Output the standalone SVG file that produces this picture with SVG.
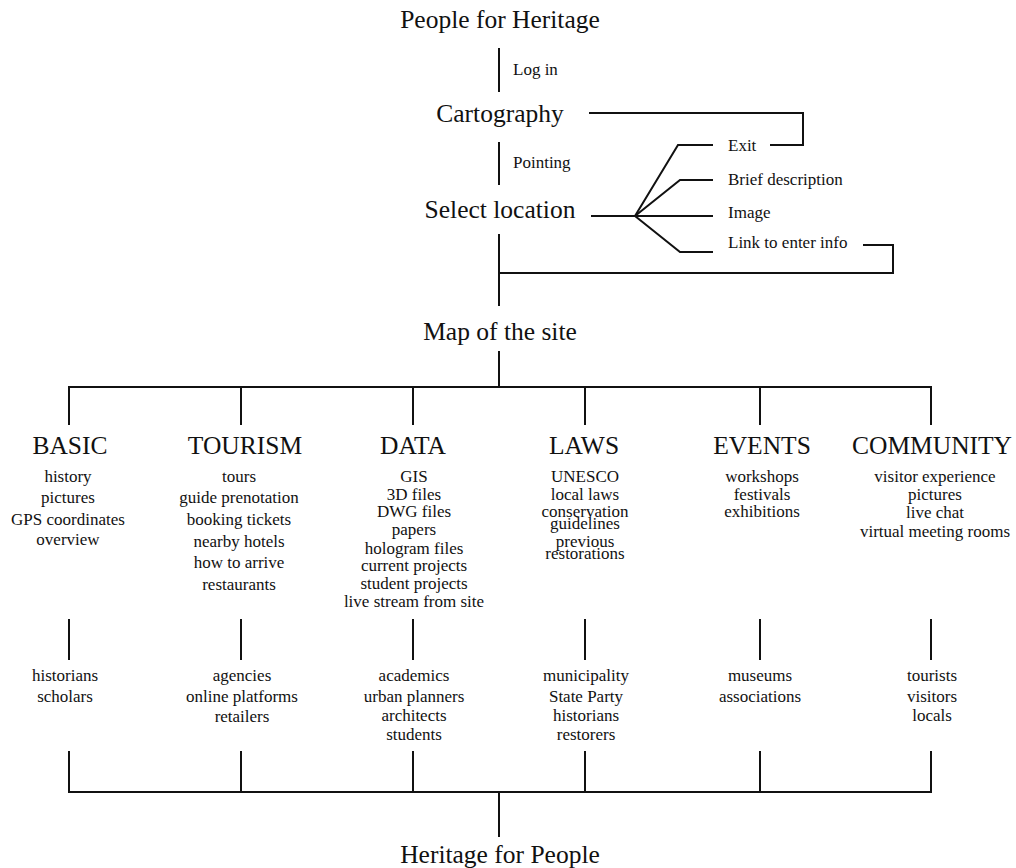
<svg xmlns="http://www.w3.org/2000/svg" width="1016" height="868" viewBox="0 0 1016 868" font-family="'Liberation Serif', 'DejaVu Serif', 'Times New Roman', serif">
<style>
text{font-family:'Liberation Serif','DejaVu Serif','Times New Roman',serif;fill:#111}
.big{font-size:25.5px;text-anchor:middle}
.sm{font-size:17px}
.c{text-anchor:middle}
.ln{fill:none;stroke:#111;stroke-width:2}
</style>
<rect width="1016" height="868" fill="#fff"/>
<g id="connectors" class="ln">
<path d="M499 48V92"/>
<path d="M499 142V185"/>
<path d="M589 113H803V145H770"/>
<path d="M591 216H635"/>
<path d="M635 216L678 145H713"/>
<path d="M635 216L680 180H713"/>
<path d="M635 216H713"/>
<path d="M635 216L680 252H713"/>
<path d="M863 245H893V273H499"/>
<path d="M499 234V306"/>
<path d="M499 351V387"/>
<path d="M69 425V387H931V425"/>
<path d="M241 387V425M413 387V425M585 387V425M760 387V425"/>
<path d="M69 619V660M241 619V660M413 619V660M585 619V660M760 619V660M931 619V660"/>
<path d="M69 751V792H931V751"/>
<path d="M241 751V792M413 751V792M585 751V792M760 751V792"/>
<path d="M499 792V837"/>
</g>
<g id="people-for-heritage"><text class="big" x="500" y="28">People for Heritage</text></g>
<g id="login-label"><text class="sm" x="513" y="75">Log in</text></g>
<g id="cartography"><text class="big" x="500" y="122">Cartography</text></g>
<g id="pointing-label"><text class="sm" x="513" y="168">Pointing</text></g>
<g id="select-location"><text class="big" x="500" y="218">Select location</text></g>
<g id="exit"><text class="sm" x="728" y="151">Exit</text></g>
<g id="brief-description"><text class="sm" x="728" y="185">Brief description</text></g>
<g id="image"><text class="sm" x="728" y="218">Image</text></g>
<g id="link-info"><text class="sm" x="728" y="248">Link to enter info</text></g>
<g id="map-of-site"><text class="big" x="500" y="340">Map of the site</text></g>
<g id="basic">
<text class="big" x="70" y="454">BASIC</text>
<text class="sm c"><tspan x="68" y="482">history</tspan><tspan x="68" y="503">pictures</tspan><tspan x="68" y="525">GPS coordinates</tspan><tspan x="68" y="545">overview</tspan></text>
</g>
<g id="tourism">
<text class="big" x="245" y="454">TOURISM</text>
<text class="sm c"><tspan x="239" y="482">tours</tspan><tspan x="239" y="503">guide prenotation</tspan><tspan x="239" y="525">booking tickets</tspan><tspan x="239" y="547">nearby hotels</tspan><tspan x="239" y="568">how to arrive</tspan><tspan x="239" y="590">restaurants</tspan></text>
</g>
<g id="data">
<text class="big" x="413" y="454">DATA</text>
<text class="sm c"><tspan x="414" y="482">GIS</tspan><tspan x="414" y="499.5">3D files</tspan><tspan x="414" y="517">DWG files</tspan><tspan x="414" y="534.5">papers</tspan><tspan x="414" y="554">hologram files</tspan><tspan x="414" y="571">current projects</tspan><tspan x="414" y="589">student projects</tspan><tspan x="414" y="607">live stream from site</tspan></text>
</g>
<g id="laws">
<text class="big" x="584" y="454">LAWS</text>
<text class="sm c"><tspan x="585" y="482">UNESCO</tspan><tspan x="585" y="499.5">local laws</tspan><tspan x="585" y="517">conservation</tspan><tspan x="585" y="528.5">guidelines</tspan><tspan x="585" y="547">previous</tspan><tspan x="585" y="559">restorations</tspan></text>
</g>
<g id="events">
<text class="big" x="762" y="454">EVENTS</text>
<text class="sm c"><tspan x="762" y="482">workshops</tspan><tspan x="762" y="499.5">festivals</tspan><tspan x="762" y="517">exhibitions</tspan></text>
</g>
<g id="community">
<text class="big" x="932" y="454">COMMUNITY</text>
<text class="sm c"><tspan x="935" y="482">visitor experience</tspan><tspan x="935" y="499.5">pictures</tspan><tspan x="935" y="518">live chat</tspan><tspan x="935" y="537">virtual meeting rooms</tspan></text>
</g>
<g id="basic-stakeholders"><text class="sm c"><tspan x="65" y="681">historians</tspan><tspan x="65" y="702">scholars</tspan></text></g>
<g id="tourism-stakeholders"><text class="sm c"><tspan x="242" y="681">agencies</tspan><tspan x="242" y="702">online platforms</tspan><tspan x="242" y="722">retailers</tspan></text></g>
<g id="data-stakeholders"><text class="sm c"><tspan x="414" y="681">academics</tspan><tspan x="414" y="702">urban planners</tspan><tspan x="414" y="721">architects</tspan><tspan x="414" y="740">students</tspan></text></g>
<g id="laws-stakeholders"><text class="sm c"><tspan x="586" y="681">municipality</tspan><tspan x="586" y="702">State Party</tspan><tspan x="586" y="721">historians</tspan><tspan x="586" y="740">restorers</tspan></text></g>
<g id="events-stakeholders"><text class="sm c"><tspan x="760" y="681">museums</tspan><tspan x="760" y="702">associations</tspan></text></g>
<g id="community-stakeholders"><text class="sm c"><tspan x="932" y="681">tourists</tspan><tspan x="932" y="702">visitors</tspan><tspan x="932" y="721">locals</tspan></text></g>
<g id="heritage-for-people"><text class="big" x="500" y="863">Heritage for People</text></g>
</svg>
